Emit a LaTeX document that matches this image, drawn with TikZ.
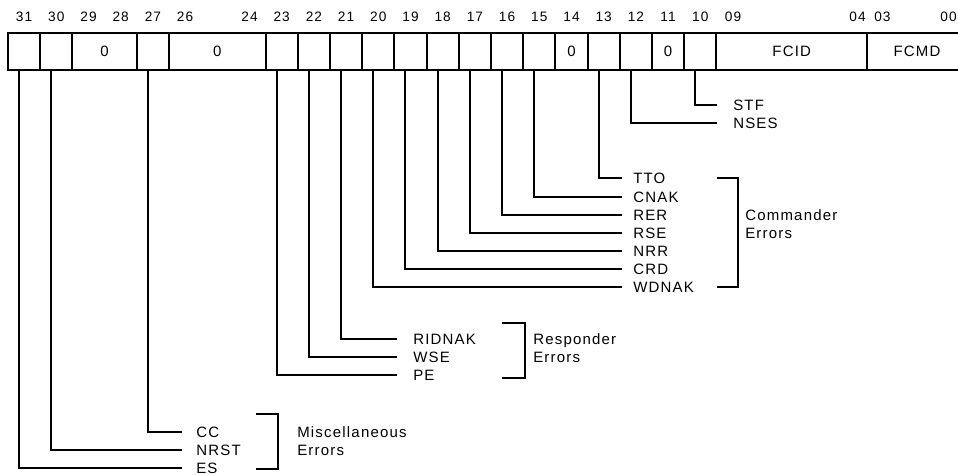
\documentclass[tikz,border=0pt]{standalone}
\usepackage{fontspec}
\setmainfont{Liberation Sans}
\newfontfamily\regfont[LetterSpace=8]{Liberation Sans}
\tikzset{
    cell/.style={draw=black, rectangle, line width=1.5pt, anchor=north west, inner sep=0pt, outer sep=0pt,
        minimum height=27.75pt, font=\regfont\fontsize{11.25}{13.5}\selectfont},
    bitno/.style={inner sep=0pt, font=\regfont\fontsize{10.25}{12}\selectfont},
    lbl/.style={anchor=west, inner sep=0pt, font=\regfont\fontsize{11.25}{13.5}\selectfont},
    grp/.style={anchor=west, inner sep=0pt, align=left, font=\regfont\fontsize{11.25}{13.5}\selectfont},
    lead/.style={line width=1.5pt},
    brack/.style={line width=1.5pt}
}
\begin{document}
\begin{tikzpicture}[x=0.75pt, y=-0.75pt]
    \useasboundingbox (0,0) rectangle (958,475);
    %   Register cells, one bit each
    \foreach \bit/\txt in {31/{},30/{},27/{},23/{},22/{},21/{},20/{},19/{},18/{},17/{},16/{},15/{},14/0,13/{},12/{},11/0,10/{}}
        \node[cell, minimum width=24.15pt] (c\bit) at ({8+(31-\bit)*32.2},33) {\txt};
    %   Wider fields
    \node[cell, minimum width=48.3pt] (f29) at (72.4,33) {0};
    \node[cell, minimum width=72.45pt] (f26) at (169,33) {0};
    \node[cell, minimum width=112.95pt] (fcid) at (716.4,33) {FCID};
    \node[cell, minimum width=75pt] (fcmd) at (fcid.north east) {FCMD};
    %   Bit numbers
    \foreach \bit in {31,30,29,28,27,26,24,23,22,...,10}
        \node[bitno] (n\bit) at ({24.1+(31-\bit)*32.2},16.5) {\bit};
    \node[bitno] (n09) at (733,16.5) {09};
    \node[bitno, anchor=east] (n04) at (866,16.5) {04};
    \node[bitno, anchor=west] (n03) at (874,16.5) {03};
    \node[bitno, anchor=east] (n00) at (957,16.5) {00};
    %   Single flags
    \foreach \cl/\nm/\txt/\y in {c10/stf/STF/105, c12/nses/NSES/123}
    {
        \node[lbl] (\nm) at (733,\y) {\txt};
        \draw[lead] (\cl.south west) -- ++(11,0) |- ([xshift=-12pt]\nm.west);
    }
    %   Commander errors
    \foreach \cl/\nm/\txt/\y in {c13/tto/TTO/178, c15/cnak/CNAK/197, c16/rer/RER/215, c17/rse/RSE/233,
        c18/nrr/NRR/251, c19/crd/CRD/269, c20/wdnak/WDNAK/287}
    {
        \node[lbl] (\nm) at (633,\y) {\txt};
        \draw[lead] (\cl.south west) -- ++(11,0) |- ([xshift=-8.25pt]\nm.west);
    }
    \draw[brack] (717,178) -- (738,178) -- (738,287) -- (717,287);
    \node[grp] (cmderr) at (745,224.5) {Commander\\Errors};
    %   Responder errors
    \foreach \cl/\nm/\txt/\y in {c21/ridnak/RIDNAK/339, c22/wse/WSE/357, c23/pe/PE/375}
    {
        \node[lbl] (\nm) at (413,\y) {\txt};
        \draw[lead] (\cl.south west) -- ++(11,0) |- ([xshift=-12pt]\nm.west);
    }
    \draw[brack] (502,323) -- (525,323) -- (525,378) -- (502,378);
    \node[grp] (rsperr) at (533,348) {Responder\\Errors};
    %   Miscellaneous errors
    \foreach \cl/\nm/\txt/\y in {c27/cc/CC/432, c30/nrst/NRST/450, c31/es/ES/468}
    {
        \node[lbl] (\nm) at (196,\y) {\txt};
        \draw[lead] (\cl.south west) -- ++(11,0) |- ([xshift=-10.5pt]\nm.west);
    }
    \draw[brack] (256,414) -- (278,414) -- (278,469) -- (256,469);
    \node[grp] (miscerr) at (297,441) {Miscellaneous\\Errors};
\end{tikzpicture}
\end{document}
